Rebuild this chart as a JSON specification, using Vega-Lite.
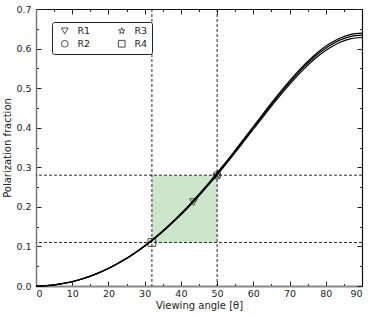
{
  "$schema": "https://vega.github.io/schema/vega-lite/v6.json",
  "width": 326,
  "height": 277,
  "autosize": {"type": "none"},
  "padding": {"left": 36, "top": 9, "right": 12, "bottom": 31},
  "config": {
    "view": {"stroke": null},
    "axis": {"grid": false, "labelFont": "DejaVu Sans", "titleFont": "DejaVu Sans", "labelFontSize": 9.5, "titleFontSize": 10, "titleFontWeight": "normal", "labelColor": "#222", "titleColor": "#222", "tickColor": "#222"},
    "legend": {"labelFont": "DejaVu Sans"}
  },
  "datasets": {
    "curve": [
      {"s":"a","t":0,"p":0},{"s":"a","t":3,"p":0.00099},{"s":"a","t":6,"p":0.00396},{"s":"a","t":9,"p":0.00893},{"s":"a","t":12,"p":0.0159},{"s":"a","t":15,"p":0.0249},{"s":"a","t":18,"p":0.03596},{"s":"a","t":21,"p":0.04908},{"s":"a","t":24,"p":0.06431},{"s":"a","t":27,"p":0.08166},{"s":"a","t":30,"p":0.10115},{"s":"a","t":33,"p":0.12278},{"s":"a","t":36,"p":0.14654},{"s":"a","t":39,"p":0.17238},{"s":"a","t":42,"p":0.20025},{"s":"a","t":45,"p":0.23004},{"s":"a","t":48,"p":0.26159},{"s":"a","t":51,"p":0.29468},{"s":"a","t":54,"p":0.32902},{"s":"a","t":57,"p":0.36425},{"s":"a","t":60,"p":0.39992},{"s":"a","t":63,"p":0.43548},{"s":"a","t":66,"p":0.4703},{"s":"a","t":69,"p":0.50368},{"s":"a","t":72,"p":0.53485},{"s":"a","t":75,"p":0.56302},{"s":"a","t":78,"p":0.5874},{"s":"a","t":81,"p":0.60725},{"s":"a","t":84,"p":0.62194},{"s":"a","t":87,"p":0.63096},{"s":"a","t":90,"p":0.634},
      {"s":"b","t":0,"p":0},{"s":"b","t":3,"p":0.001},{"s":"b","t":6,"p":0.004},{"s":"b","t":9,"p":0.009},{"s":"b","t":12,"p":0.01603},{"s":"b","t":15,"p":0.0251},{"s":"b","t":18,"p":0.03624},{"s":"b","t":21,"p":0.04947},{"s":"b","t":24,"p":0.06482},{"s":"b","t":27,"p":0.0823},{"s":"b","t":30,"p":0.10195},{"s":"b","t":33,"p":0.12375},{"s":"b","t":36,"p":0.14769},{"s":"b","t":39,"p":0.17374},{"s":"b","t":42,"p":0.20183},{"s":"b","t":45,"p":0.23186},{"s":"b","t":48,"p":0.26365},{"s":"b","t":51,"p":0.297},{"s":"b","t":54,"p":0.33162},{"s":"b","t":57,"p":0.36712},{"s":"b","t":60,"p":0.40307},{"s":"b","t":63,"p":0.43891},{"s":"b","t":66,"p":0.474},{"s":"b","t":69,"p":0.50765},{"s":"b","t":72,"p":0.53907},{"s":"b","t":75,"p":0.56746},{"s":"b","t":78,"p":0.59203},{"s":"b","t":81,"p":0.61204},{"s":"b","t":84,"p":0.62684},{"s":"b","t":87,"p":0.63593},{"s":"b","t":90,"p":0.639},
      {"s":"c","t":0,"p":0},{"s":"c","t":3,"p":0.00098},{"s":"c","t":6,"p":0.00393},{"s":"c","t":9,"p":0.00884},{"s":"c","t":12,"p":0.01575},{"s":"c","t":15,"p":0.02467},{"s":"c","t":18,"p":0.03562},{"s":"c","t":21,"p":0.04862},{"s":"c","t":24,"p":0.0637},{"s":"c","t":27,"p":0.08089},{"s":"c","t":30,"p":0.10019},{"s":"c","t":33,"p":0.12162},{"s":"c","t":36,"p":0.14515},{"s":"c","t":39,"p":0.17075},{"s":"c","t":42,"p":0.19836},{"s":"c","t":45,"p":0.22787},{"s":"c","t":48,"p":0.25911},{"s":"c","t":51,"p":0.29189},{"s":"c","t":54,"p":0.32591},{"s":"c","t":57,"p":0.36081},{"s":"c","t":60,"p":0.39613},{"s":"c","t":63,"p":0.43136},{"s":"c","t":66,"p":0.46584},{"s":"c","t":69,"p":0.49891},{"s":"c","t":72,"p":0.52979},{"s":"c","t":75,"p":0.55769},{"s":"c","t":78,"p":0.58184},{"s":"c","t":81,"p":0.6015},{"s":"c","t":84,"p":0.61605},{"s":"c","t":87,"p":0.62498},{"s":"c","t":90,"p":0.628}
    ],
    "pts": [
      {"r":"R1","t":43.5,"p":0.212},
      {"r":"R2","t":50,"p":0.28},
      {"r":"R3","t":50,"p":0.28},
      {"r":"R4","t":32,"p":0.11}
    ],
    "box": [{"x1":32,"x2":50,"y1":0.11,"y2":0.28}],
    "vr": [{"v":32},{"v":50}],
    "hr": [{"h":0.11},{"h":0.28}]
  },
  "resolve": {"axis": {"x": "independent", "y": "independent"}},
  "layer": [
    {
      "data": {"name": "box"},
      "mark": {"type": "rect", "color": "#cce6cc"},
      "encoding": {
        "x": {"field": "x1", "type": "quantitative", "scale": {"domain": [0, 90], "nice": false},
          "axis": {"orient": "top", "values": [0,10,20,30,40,50,60,70,80,90], "tickSize": -5, "labels": false, "title": null, "domainColor": "#111", "domainWidth": 1.2}},
        "x2": {"field": "x2"},
        "y": {"field": "y1", "type": "quantitative", "scale": {"domain": [0, 0.7], "nice": false, "zero": false},
          "axis": {"orient": "right", "values": [0,0.1,0.2,0.3,0.4,0.5,0.6,0.7], "tickSize": -5, "labels": false, "title": null, "domainColor": "#111", "domainWidth": 1.2}},
        "y2": {"field": "y2"}
      }
    },
    {
      "data": {"name": "vr"},
      "mark": {"type": "rule", "color": "#111", "strokeDash": [3, 2], "strokeWidth": 0.9},
      "encoding": {
        "x": {"field": "v", "type": "quantitative",
          "axis": {"orient": "bottom", "values": [5,15,25,35,45,55,65,75,85], "tickSize": -2.5, "labels": false, "domain": false, "title": null}}
      }
    },
    {
      "data": {"name": "hr"},
      "mark": {"type": "rule", "color": "#111", "strokeDash": [3, 2], "strokeWidth": 0.9},
      "encoding": {
        "y": {"field": "h", "type": "quantitative",
          "axis": {"orient": "left", "values": [0.05,0.15,0.25,0.35,0.45,0.55,0.65], "tickSize": -2.5, "labels": false, "domain": false, "title": null}}
      }
    },
    {
      "data": {"name": "curve"},
      "mark": {"type": "line", "color": "black", "strokeWidth": 1.2, "interpolate": "monotone"},
      "encoding": {
        "x": {"field": "t", "type": "quantitative",
          "axis": {"orient": "bottom", "values": [0,10,20,30,40,50,60,70,80,90], "tickSize": -5, "labelPadding": 7, "title": "Viewing angle [θ]", "titlePadding": 3, "domainColor": "#888", "domainWidth": 2}},
        "y": {"field": "p", "type": "quantitative",
          "axis": {"orient": "left", "values": [0,0.1,0.2,0.3,0.4,0.5,0.6,0.7], "format": ".1f", "tickSize": -5, "labelPadding": 10, "title": "Polarization fraction", "titlePadding": 3, "domainColor": "#777", "domainWidth": 1.5}},
        "detail": {"field": "s"}
      }
    },
    {
      "data": {"name": "pts"},
      "mark": {"type": "point", "filled": false, "color": "black", "size": 60, "strokeWidth": 1},
      "encoding": {
        "x": {"field": "t", "type": "quantitative",
          "axis": {"orient": "top", "values": [5,15,25,35,45,55,65,75,85], "tickSize": -2.5, "labels": false, "domain": false, "title": null}},
        "y": {"field": "p", "type": "quantitative",
          "axis": {"orient": "right", "values": [0.05,0.15,0.25,0.35,0.45,0.55,0.65], "tickSize": -2.5, "labels": false, "domain": false, "title": null}},
        "shape": {"field": "r", "type": "nominal",
          "scale": {"domain": ["R1","R2","R3","R4"], "range": ["triangle-down", "circle", "M0,-1L0.235,-0.324L0.951,-0.309L0.38,0.124L0.588,0.809L0,0.4L-0.588,0.809L-0.38,0.124L-0.951,-0.309L-0.235,-0.324Z", "square"]},
          "legend": {"orient": "none", "legendX": 16, "legendY": 13, "columns": 2, "title": null, "strokeColor": "#222", "fillColor": "white", "padding": 4, "cornerRadius": 2, "columnPadding": 22, "rowPadding": 2, "labelFontSize": 9.5, "labelColor": "#222", "labelOffset": 8, "symbolOffset": 4, "symbolSize": 45, "symbolStrokeColor": "black", "symbolStrokeWidth": 1}}
      }
    }
  ]
}
